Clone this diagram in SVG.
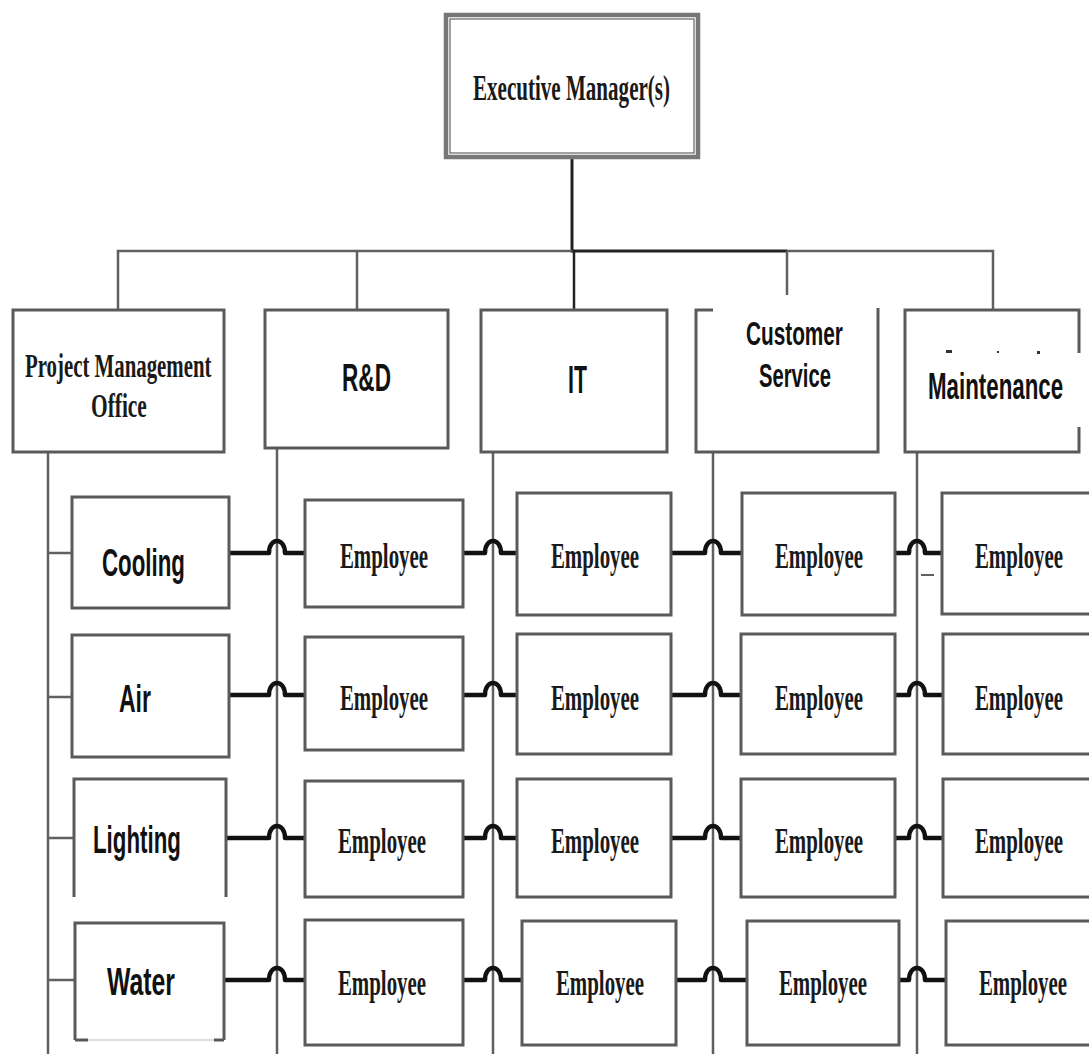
<svg xmlns="http://www.w3.org/2000/svg" width="1089" height="1054" viewBox="0 0 1089 1054">
<style>
.bx{fill:#fff;stroke:#5a5a5a;stroke-width:3}
.bo{fill:none;stroke:#5a5a5a;stroke-width:3}
.ln{fill:none;stroke:#606060;stroke-width:2.5}
.dk{fill:none;stroke:#222;stroke-width:3}
.th{fill:none;stroke:#111;stroke-width:4.5;stroke-linejoin:round}
.ser{font-family:"Liberation Serif","Times New Roman",serif;font-weight:bold;fill:#1a1a1a}
.san{font-family:"Liberation Sans",Arial,sans-serif;font-weight:bold;fill:#111}
.emp{font-size:36px;text-anchor:middle}
.cat{font-size:38px}
</style>
<rect width="1089" height="1054" fill="#fff"/>
<g id="connectors">
  <path class="dk" d="M572,158 V251 H787"/>
  <path class="ln" d="M118,310 V251 H572"/>
  <path class="ln" d="M787,251 H993 V310"/>
  <path class="ln" d="M357,251 V310"/>
  <path class="dk" d="M574,251 V310" style="stroke-width:2.5"/>
  <path class="ln" d="M787,251 V295"/>
  <path class="ln" d="M48,452 V1054"/>
  <path class="ln" d="M277,448 V1054"/>
  <path class="ln" d="M493,453 V1054"/>
  <path class="ln" d="M713,452 V1054"/>
  <path class="ln" d="M917,452 V1054"/>
  <path class="ln" d="M48,553 H72 M48,697 H72 M48,838 H74 M48,980 H75"/>
  <path class="ln" d="M921,575 H934" style="stroke-width:2"/>
  <path class="th" d="M229,553 H269 C269,537 285,537 285,553 H305 M463,553 H485 C485,537 501,537 501,553 H517 M671,553 H705 C705,537 721,537 721,553 H742 M895,553 H909 C909,537 925,537 925,553 H942"/>
  <path class="th" d="M229,695 H269 C269,679 285,679 285,695 H305 M463,695 H485 C485,679 501,679 501,695 H517 M671,695 H705 C705,679 721,679 721,695 H741 M895,695 H909 C909,679 925,679 925,695 H943"/>
  <path class="th" d="M226,838 H269 C269,822 285,822 285,838 H305 M463,838 H485 C485,822 501,822 501,838 H517 M671,838 H705 C705,822 721,822 721,838 H741 M895,838 H909 C909,822 925,822 925,838 H943"/>
  <path class="th" d="M224,980 H269 C269,964 285,964 285,980 H305 M463,980 H485 C485,964 501,964 501,980 H522 M676,980 H705 C705,964 721,964 721,980 H747 M899,980 H909 C909,964 925,964 925,980 H946"/>
</g>
<g id="exec">
  <rect x="446" y="15" width="252" height="142" fill="#fff" stroke="#777" stroke-width="4.5"/>
  <rect x="450" y="19" width="244" height="134" fill="none" stroke="#444" stroke-width="1"/>
  <text class="ser" font-size="36" transform="translate(473,100) scale(0.585,1)">Executive Manager(s)</text>
</g>
<g id="pmo">
  <rect class="bx" x="13" y="310" width="211" height="142"/>
  <text class="ser" font-size="34" transform="translate(25,377) scale(0.613,1)">Project Management</text>
  <text class="ser" font-size="34" transform="translate(91,417) scale(0.63,1)">Office</text>
</g>
<g id="rnd">
  <rect class="bx" x="265" y="310" width="183" height="138"/>
  <text class="san" font-size="38" transform="translate(342,391) scale(0.595,1)">R&amp;D</text>
</g>
<g id="it">
  <rect class="bx" x="481" y="310" width="186" height="142"/>
  <text class="san" font-size="38" transform="translate(568,393) scale(0.56,1)">IT</text>
</g>
<g id="cs">
  <path class="bo" d="M713,310 H696 V452 H878 V308"/>
  <text class="san" font-size="34" transform="translate(746,345) scale(0.611,1)">Customer</text>
  <text class="san" font-size="34" transform="translate(759,387) scale(0.595,1)">Service</text>
</g>
<g id="maint">
  <path class="bo" d="M1079,353 V310 H905 V452 H1079 V427"/>
  <g fill="#333"><rect x="946" y="350" width="6" height="3"/><rect x="997" y="351" width="2" height="2"/><rect x="1037" y="351" width="3" height="3"/></g>
  <text class="san" font-size="36" transform="translate(928,399) scale(0.62,1)">Maintenance</text>
</g>
<g id="cooling">
  <rect class="bx" x="72" y="497" width="157" height="111"/>
  <text class="san cat" transform="translate(102,576) scale(0.587,1)">Cooling</text>
</g>
<g id="air">
  <rect class="bx" x="72" y="635" width="157" height="122"/>
  <text class="san cat" transform="translate(119,712) scale(0.606,1)">Air</text>
</g>
<g id="lighting">
  <path class="bo" d="M74,897 V779 H226 V897"/>
  <text class="san cat" transform="translate(93,853) scale(0.587,1)">Lighting</text>
</g>
<g id="water">
  <path class="bo" d="M75,1040 V923 H224 V1040"/>
  <path class="bo" d="M75,1040 H88 M224,1040 H214"/>
  <path d="M88,1040 H214" stroke="#ddd" stroke-width="2"/>
  <text class="san cat" transform="translate(107,995) scale(0.653,1)">Water</text>
</g>
<g id="emp-rnd-1"><rect class="bx" x="305" y="500" width="158" height="107"/><text class="ser emp" transform="translate(384,568) scale(0.58,1)">Employee</text></g>
<g id="emp-it-1"><rect class="bx" x="517" y="493" width="154" height="122"/><text class="ser emp" transform="translate(595,568) scale(0.58,1)">Employee</text></g>
<g id="emp-cs-1"><rect class="bx" x="742" y="493" width="153" height="122"/><text class="ser emp" transform="translate(819,568) scale(0.58,1)">Employee</text></g>
<g id="emp-mt-1"><rect class="bx" x="942" y="493" width="152" height="121"/><text class="ser emp" transform="translate(1019,568) scale(0.58,1)">Employee</text></g>
<g id="emp-rnd-2"><rect class="bx" x="305" y="637" width="158" height="113"/><text class="ser emp" transform="translate(384,710) scale(0.58,1)">Employee</text></g>
<g id="emp-it-2"><rect class="bx" x="517" y="634" width="154" height="120"/><text class="ser emp" transform="translate(595,710) scale(0.58,1)">Employee</text></g>
<g id="emp-cs-2"><rect class="bx" x="741" y="634" width="154" height="120"/><text class="ser emp" transform="translate(819,710) scale(0.58,1)">Employee</text></g>
<g id="emp-mt-2"><rect class="bx" x="943" y="634" width="151" height="120"/><text class="ser emp" transform="translate(1019,710) scale(0.58,1)">Employee</text></g>
<g id="emp-rnd-3"><rect class="bx" x="305" y="781" width="158" height="116"/><text class="ser emp" transform="translate(382,853) scale(0.58,1)">Employee</text></g>
<g id="emp-it-3"><rect class="bx" x="517" y="779" width="154" height="118"/><text class="ser emp" transform="translate(595,853) scale(0.58,1)">Employee</text></g>
<g id="emp-cs-3"><rect class="bx" x="741" y="779" width="154" height="118"/><text class="ser emp" transform="translate(819,853) scale(0.58,1)">Employee</text></g>
<g id="emp-mt-3"><rect class="bx" x="943" y="779" width="151" height="118"/><text class="ser emp" transform="translate(1019,853) scale(0.58,1)">Employee</text></g>
<g id="emp-rnd-4"><rect class="bx" x="305" y="920" width="158" height="125"/><text class="ser emp" transform="translate(382,995) scale(0.58,1)">Employee</text></g>
<g id="emp-it-4"><rect class="bx" x="522" y="921" width="154" height="124"/><text class="ser emp" transform="translate(600,995) scale(0.58,1)">Employee</text></g>
<g id="emp-cs-4"><rect class="bx" x="747" y="921" width="152" height="124"/><text class="ser emp" transform="translate(823,995) scale(0.58,1)">Employee</text></g>
<g id="emp-mt-4"><rect class="bx" x="946" y="921" width="148" height="124"/><text class="ser emp" transform="translate(1023,995) scale(0.58,1)">Employee</text></g>
</svg>
